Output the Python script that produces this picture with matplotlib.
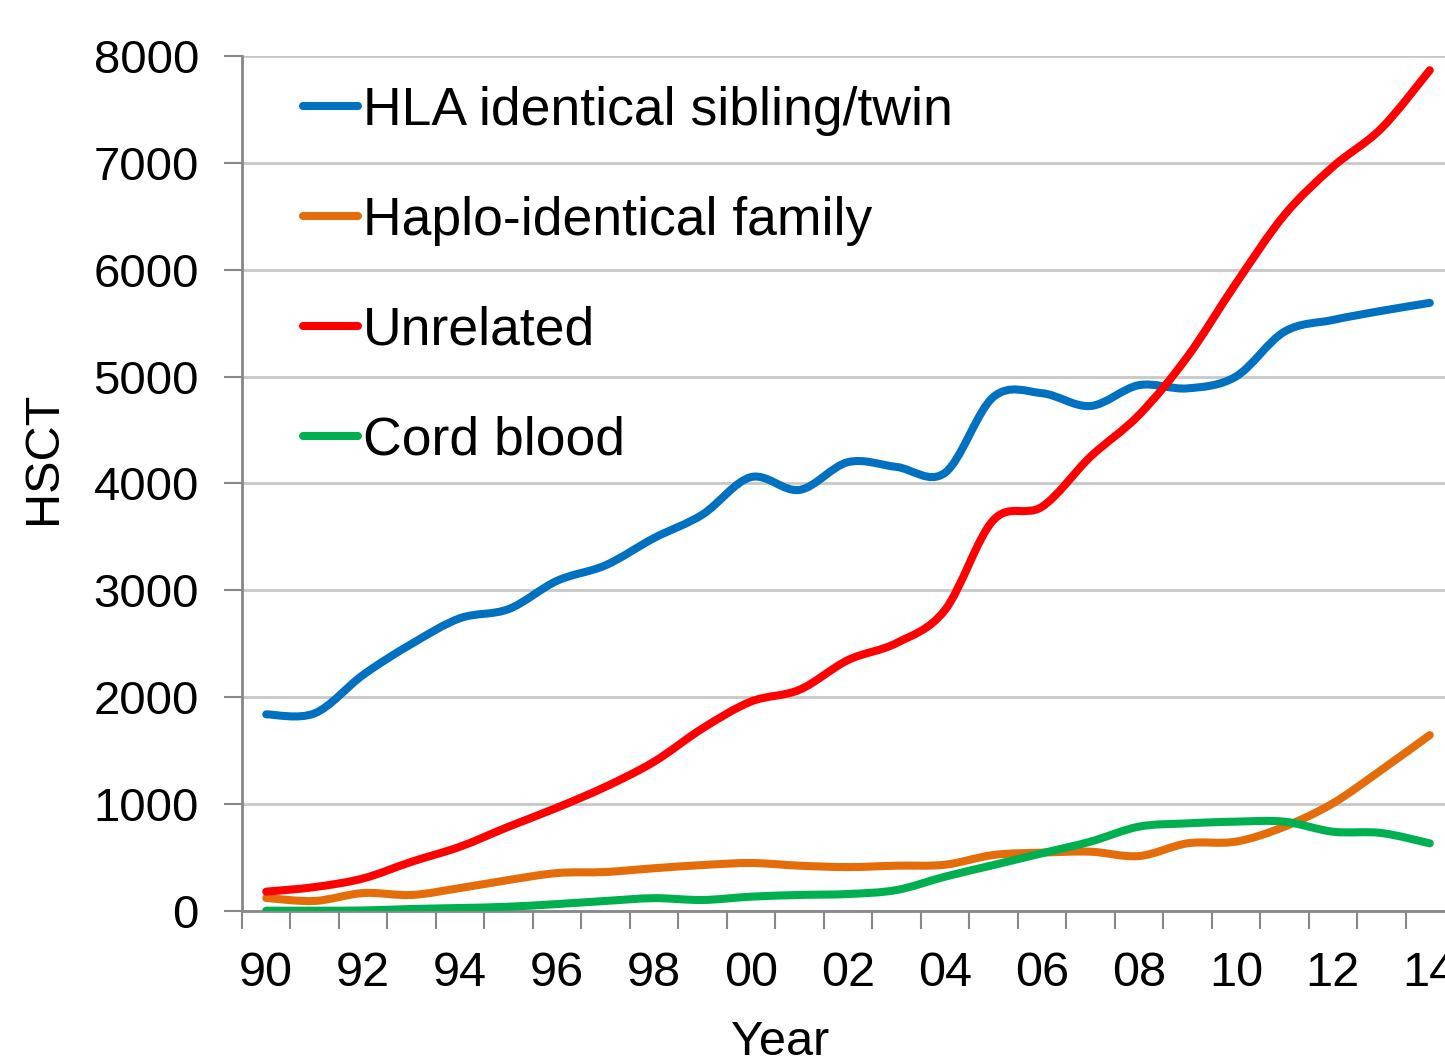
import numpy as np
import matplotlib
matplotlib.use("Agg")
import matplotlib.pyplot as plt
from matplotlib.path import Path
from matplotlib.patches import PathPatch
from matplotlib.lines import Line2D

plt.rcParams["font.family"] = ["Liberation Sans", "DejaVu Sans"]

years = list(range(1990, 2015))
year_labels = [str(y)[2:] for y in years]

hla_sibling = [1840, 1850, 2210, 2500, 2740, 2825, 3090, 3235, 3490, 3710,
               4060, 3940, 4200, 4155, 4100, 4810, 4845, 4725, 4920, 4890,
               5000, 5420, 5530, 5615, 5690]
haplo_family = [122, 94, 168, 150, 215, 290, 355, 365, 400, 430,
                449, 424, 411, 424, 433, 524, 546, 555, 514, 633,
                649, 789, 1007, 1319, 1646]
unrelated = [181, 224, 305, 461, 602, 789, 967, 1163, 1397, 1709,
             1960, 2070, 2348, 2507, 2816, 3658, 3782, 4250, 4640, 5185,
             5870, 6511, 6963, 7322, 7867]
cord_blood = [3, 3, 5, 19, 28, 40, 65, 94, 120, 103,
              134, 150, 159, 196, 321, 430, 540, 649, 789, 820,
              836, 836, 742, 730, 633]

series = [
    ("HLA identical sibling/twin", hla_sibling, "#0070C0"),
    ("Haplo-identical family", haplo_family, "#E46C0A"),
    ("Unrelated", unrelated, "#FF0000"),
    ("Cord blood", cord_blood, "#00B050"),
]


def smooth_path(x, y):
    # Excel-style smoothed line: Catmull-Rom segments written as cubic Beziers
    pts = np.column_stack([x, y]).astype(float)
    n = len(pts)
    verts = [pts[0]]
    codes = [Path.MOVETO]
    for i in range(n - 1):
        p0 = pts[max(i - 1, 0)]
        p1 = pts[i]
        p2 = pts[i + 1]
        p3 = pts[min(i + 2, n - 1)]
        verts += [p1 + (p2 - p0) / 6.0, p2 - (p3 - p1) / 6.0, p2]
        codes += [Path.CURVE4] * 3
    return Path(verts, codes)


fig = plt.figure(figsize=(14.45, 10.64), dpi=100)
ax = fig.add_axes([242 / 1445, 153 / 1064, 1212 / 1445, 855 / 1064])

x = np.arange(len(years))
handles = []
for name, vals, color in series:
    patch = PathPatch(smooth_path(x, vals), facecolor="none", edgecolor=color,
                      lw=5.8, capstyle="round", joinstyle="round", zorder=3)
    ax.add_patch(patch)
    handles.append(Line2D([], [], color=color, lw=5.8, solid_capstyle="round", label=name))

ax.set_xlim(-0.5, len(years) - 0.5)
ax.set_ylim(0, 8000)

ax.set_yticks(np.arange(0, 8001, 1000))
ax.tick_params(axis="y", labelsize=34, length=13, width=1.5, color="#888888", pad=18)
ax.yaxis.grid(True, color="#c8c8c8", lw=2)
ax.set_axisbelow(True)

ax.set_xticks(x[::2])
ax.set_xticklabels(year_labels[::2])
ax.set_xticks(np.arange(-0.5, len(years)), minor=True)
ax.tick_params(axis="x", which="major", length=0, labelsize=35, pad=29)
ax.tick_params(axis="x", which="minor", length=13, width=1.5, color="#888888")

for side in ["top", "right"]:
    ax.spines[side].set_visible(False)
for side in ["left", "bottom"]:
    ax.spines[side].set_color("#888888")
    ax.spines[side].set_linewidth(2)

ax.set_ylabel("HSCT", fontsize=35)
ax.yaxis.set_label_coords(-0.145, 0.53)
ax.set_xlabel("Year", fontsize=35)
ax.xaxis.set_label_coords(0.444, -0.128)
ax.xaxis.label.set_va("top")

ax.legend(handles=handles, loc="upper left", bbox_to_anchor=(0.0325, 0.99),
          frameon=False, fontsize=38.5, handlelength=1.03, handletextpad=0.1,
          labelspacing=1.12, borderaxespad=0)

fig.savefig("out.png", dpi=100)
